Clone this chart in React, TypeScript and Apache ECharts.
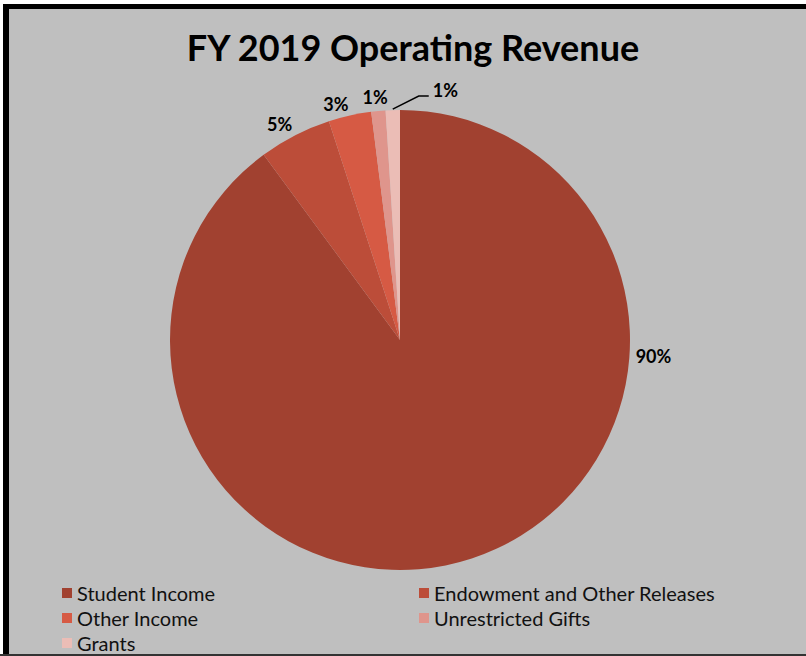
import React, { useEffect, useRef } from "react";
import * as echarts from "echarts";

const categories = [
  "Student Income",
  "Endowment and Other Releases",
  "Other Income",
  "Unrestricted Gifts",
  "Grants",
];
const values = [89.9, 5.1, 3.0, 1.0, 1.0];
const colors = ["#a14130", "#bc4d39", "#d65a44", "#df958c", "#ebbdb6"];
const titleText = "FY 2019 Operating Revenue";

const W = 806;
const H = 656;
const CX = 400;
const CY = 340;
const R = 230;
const FONT = "Lato, 'Open Sans', sans-serif";

function midAngles(): number[] {
  const total = values.reduce((a, b) => a + b, 0);
  let acc = 0;
  return values.map((v) => {
    const start = acc;
    acc += v;
    return (((start + acc) / 2) / total) * Math.PI * 2;
  });
}

function polar(theta: number, r: number): [number, number] {
  return [CX + r * Math.sin(theta), CY - r * Math.cos(theta)];
}

export default function App() {
  const ref = useRef<HTMLDivElement>(null);
  useEffect(() => {
    if (!ref.current) return;
    const chart = echarts.init(ref.current, null, { renderer: "svg" });
    const mids = midAngles();
    const data = categories.map((name, i) => ({
      name,
      value: values[i],
      itemStyle: { color: colors[i] },
      labelLine: { show: i === categories.length - 1 },
    }));
    const legendBase = {
      orient: "vertical",
      top: 583,
      height: 100,
      padding: 0,
      itemWidth: 10,
      itemHeight: 10,
      itemGap: 5,
      icon: "rect",
      textStyle: { fontFamily: FONT, fontSize: 20, color: "#111111" },
    };
    chart.setOption({
      animation: false,
      backgroundColor: "#ffffff",
      graphic: [
        { type: "rect", shape: { x: 3, y: 4, width: W, height: H }, style: { fill: "#000000" }, silent: true, z: -10 },
        { type: "rect", shape: { x: 9, y: 9, width: W, height: H - 9 - 2 }, style: { fill: "#bfbfbf" }, silent: true, z: -9 },
        { type: "rect", shape: { x: 0, y: H - 2, width: W, height: 2 }, style: { fill: "#333333" }, silent: true, z: -8 },
      ],
      title: {
        text: titleText,
        left: 408,
        top: 24,
        textAlign: "center",
        textStyle: { fontFamily: FONT, fontSize: 36, fontWeight: "bold", color: "#000000" },
      },
      legend: [
        { ...legendBase, data: [categories[0], categories[2], categories[4]], left: 62 },
        { ...legendBase, data: [categories[1], categories[3]], left: 419 },
      ],
      series: [
        {
          type: "pie",
          center: [CX, CY],
          radius: [0, R],
          startAngle: 90,
          clockwise: true,
          avoidLabelOverlap: false,
          data,
          label: {
            show: true,
            position: "outside",
            formatter: (p: any) => Math.round(p.percent) + "%",
            fontFamily: FONT,
            fontSize: 18,
            fontWeight: "bold",
            color: "#000000",
          },
          labelLine: { show: false, lineStyle: { color: "#000000", width: 1.5 } },
          itemStyle: { borderWidth: 0 },
          emphasis: { disabled: true },
          labelLayout: (params: any) => {
            const i = params.dataIndex;
            const last = categories.length - 1;
            if (i === 0) {
              const [x, y] = polar(Math.PI / 2 + 0.065, R + 24);
              return { x, y, align: "center", verticalAlign: "middle" };
            }
            if (i === last) {
              const p0 = polar(mids[i], R + 1);
              const p1: [number, number] = [p0[0] + 26, p0[1] - 13];
              const p2: [number, number] = [p1[0] + 10, p1[1]];
              return {
                x: p2[0] + 4,
                y: p2[1] + 3,
                align: "left",
                verticalAlign: "bottom",
                labelLinePoints: [p0, p1, p2],
              };
            }
            const [x, y] = polar(mids[i], R + 6);
            const shift = i === last - 1 ? 10 : 0;
            return { x: x + shift, y: y + 3 - (shift ? 2 : 0), align: "right", verticalAlign: "bottom" };
          },
        },
      ],
    });
    return () => chart.dispose();
  }, []);
  return (
    <div
      ref={ref}
      style={{ position: "absolute", left: 0, top: 0, width: W, height: H }}
    />
  );
}
